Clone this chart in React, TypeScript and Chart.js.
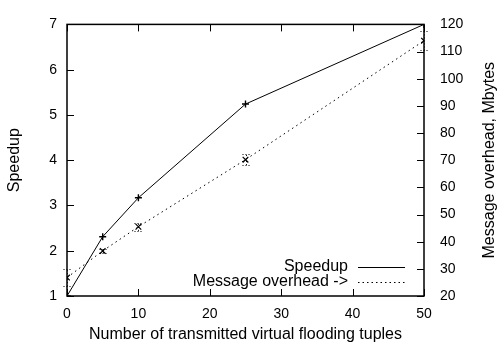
import React, { useEffect, useRef } from "react";
import { Chart, registerables } from "chart.js";

Chart.register(...registerables);

// Number of transmitted virtual flooding tuples
const tuples = [0, 5, 10, 25, 50];
// Speedup (left axis)
const speedup = [1.0, 2.31, 3.17, 5.24, 7.0];
// Message overhead in Mbytes (right axis) with error half-widths
const overhead = [26.8, 36.6, 45.5, 70.2, 114.0];
const overheadErr = [3.2, 0.8, 1.5, 2.0, 3.6];

const xTicks = [0, 10, 20, 30, 40, 50];
const speedupTicks = [1, 2, 3, 4, 5, 6, 7];
const overheadTicks = [20, 30, 40, 50, 60, 70, 80, 90, 100, 110, 120];

const legendLabels = ["Speedup", "Message overhead ->"];
const xTitle = "Number of transmitted virtual flooding tuples";
const yTitle = "Speedup";
const y1Title = "Message overhead, Mbytes";

const FONT = "'Liberation Sans', Arial, Helvetica, sans-serif";

const framePlugin = {
  id: "frame",
  afterDatasetsDraw(chart: any) {
    const { ctx, chartArea: a, scales } = chart;
    const x = scales.x, y = scales.y, y1 = scales.y1;
    ctx.save();
    ctx.strokeStyle = "#000";
    // error bars for the overhead series
    ctx.lineWidth = 1;
    ctx.setLineDash([1, 2]);
    tuples.forEach((t, i) => {
      const px = Math.round(x.getPixelForValue(t)) + 0.5;
      const lo = y1.getPixelForValue(overhead[i] - overheadErr[i]);
      const hi = y1.getPixelForValue(overhead[i] + overheadErr[i]);
      ctx.beginPath();
      ctx.moveTo(px, lo);
      ctx.lineTo(px, hi);
      ctx.moveTo(px - 4, Math.round(lo) + 0.5);
      ctx.lineTo(px + 4, Math.round(lo) + 0.5);
      ctx.moveTo(px - 4, Math.round(hi) + 0.5);
      ctx.lineTo(px + 4, Math.round(hi) + 0.5);
      ctx.stroke();
    });
    ctx.setLineDash([]);
    // inward tick marks
    ctx.lineWidth = 1;
    ctx.beginPath();
    const tl = 7;
    xTicks.forEach((t) => {
      const px = Math.round(x.getPixelForValue(t)) + 0.5;
      ctx.moveTo(px, a.bottom);
      ctx.lineTo(px, a.bottom - tl);
      ctx.moveTo(px, a.top);
      ctx.lineTo(px, a.top + tl);
    });
    speedupTicks.forEach((t) => {
      const py = Math.round(y.getPixelForValue(t)) + 0.5;
      ctx.moveTo(a.left, py);
      ctx.lineTo(a.left + tl, py);
    });
    overheadTicks.forEach((t) => {
      const py = Math.round(y1.getPixelForValue(t)) + 0.5;
      ctx.moveTo(a.right, py);
      ctx.lineTo(a.right - tl, py);
    });
    ctx.stroke();
    // border
    ctx.lineWidth = 1.5;
    ctx.strokeRect(a.left, a.top, a.right - a.left, a.bottom - a.top);

    // axis titles
    ctx.fillStyle = "#000";
    ctx.font = `16px ${FONT}`;
    ctx.textAlign = "center";
    ctx.textBaseline = "middle";
    ctx.fillText(xTitle, (a.left + a.right) / 2, 335);
    const midY = (a.top + a.bottom) / 2;
    ctx.save();
    ctx.translate(15, midY);
    ctx.rotate(-Math.PI / 2);
    ctx.fillText(yTitle, 0, 0);
    ctx.restore();
    ctx.save();
    ctx.translate(490, midY);
    ctx.rotate(-Math.PI / 2);
    ctx.fillText(y1Title, 0, 0);
    ctx.restore();

    // legend
    ctx.textAlign = "right";
    const rows = [267, 282];
    legendLabels.forEach((lab, i) => {
      ctx.fillText(lab, 348, rows[i]);
      ctx.lineWidth = 1;
      ctx.setLineDash(i === 0 ? [] : [1.5, 3]);
      ctx.beginPath();
      ctx.moveTo(358, rows[i] + 0.5);
      ctx.lineTo(405, rows[i] + 0.5);
      ctx.stroke();
    });
    ctx.restore();
  },
};

export default function App() {
  const ref = useRef<HTMLCanvasElement>(null);
  useEffect(() => {
    const chart = new Chart(ref.current!, {
      type: "line",
      data: {
        datasets: [
          {
            label: legendLabels[0],
            data: tuples.map((t, i) => ({ x: t, y: speedup[i] })),
            yAxisID: "y",
            borderColor: "#000",
            borderWidth: 1,
            pointStyle: "cross",
            pointRadius: 3.5,
            pointBorderColor: "#000",
            pointBorderWidth: 1.4,
            fill: false,
            tension: 0,
          },
          {
            label: legendLabels[1],
            data: tuples.map((t, i) => ({ x: t, y: overhead[i] })),
            yAxisID: "y1",
            borderColor: "#000",
            borderWidth: 1,
            borderDash: [1.5, 3.5],
            pointStyle: "crossRot",
            pointRadius: 4,
            pointBorderColor: "#000",
            pointBorderWidth: 1.2,
            fill: false,
            tension: 0,
          },
        ],
      },
      options: {
        animation: false,
        responsive: false,
        maintainAspectRatio: false,
        layout: { padding: { top: 14, left: 0, right: 0, bottom: 0 } },
        plugins: { legend: { display: false }, tooltip: { enabled: false } },
        scales: {
          x: {
            type: "linear",
            min: 0,
            max: 50,
            afterBuildTicks: (s: any) => { s.ticks = xTicks.map((v) => ({ value: v })); },
            afterFit: (s: any) => { s.height = 53; },
            grid: { display: false, drawTicks: false },
            border: { display: false },
            ticks: { color: "#000", font: { family: FONT, size: 14 }, padding: 10 },
          },
          y: {
            type: "linear",
            position: "left",
            min: 1,
            max: 7,
            afterBuildTicks: (s: any) => { s.ticks = speedupTicks.map((v) => ({ value: v })); },
            afterFit: (s: any) => { s.width = 67; },
            grid: { display: false, drawTicks: false },
            border: { display: false },
            ticks: { color: "#000", font: { family: FONT, size: 14 }, padding: 10 },
          },
          y1: {
            type: "linear",
            position: "right",
            min: 20,
            max: 120,
            afterBuildTicks: (s: any) => { s.ticks = overheadTicks.map((v) => ({ value: v })); },
            afterFit: (s: any) => { s.width = 76; },
            grid: { display: false, drawTicks: false },
            border: { display: false },
            ticks: { color: "#000", font: { family: FONT, size: 14 }, padding: 16 },
          },
        },
      },
      plugins: [framePlugin],
    });
    return () => chart.destroy();
  }, []);
  return (
    <div style={{ position: "fixed", left: 0, top: 0, width: 500, height: 349, background: "#fff" }}>
      <canvas ref={ref} width={500} height={349} style={{ width: 500, height: 349 }} />
    </div>
  );
}
